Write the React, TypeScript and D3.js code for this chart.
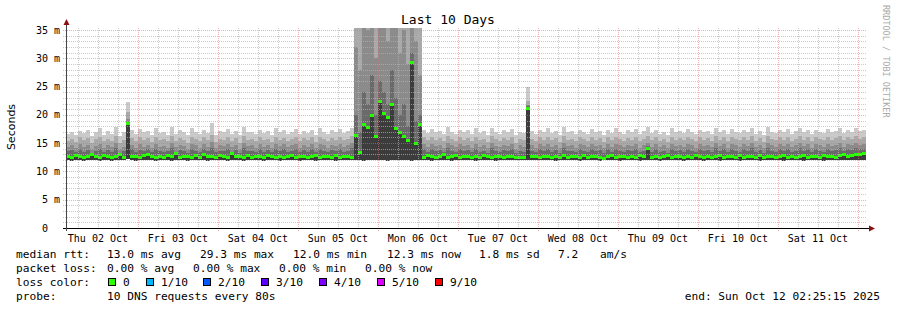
import React from 'react';
import * as d3 from 'd3';

// ---- data (ms), one value per 72-minute step, 200 steps over 10 days ----
const medRtt = [
  12.8,12.6,12.9,12.7,12.5,12.8,13.1,12.7,12.6,12.9,12.8,12.5,12.7,13.0,12.6,18.5,12.7,12.8,12.6,12.9,
  13.1,12.7,12.6,12.8,12.5,12.9,12.7,13.2,12.6,12.8,12.7,12.5,12.9,12.6,13.0,12.7,12.8,12.6,12.9,12.7,
  12.6,13.2,12.7,12.8,12.5,12.9,12.6,12.7,12.8,12.6,12.9,12.7,12.5,12.8,12.6,12.7,12.9,12.6,12.8,12.7,
  12.5,12.8,12.9,12.6,12.7,12.8,12.5,12.9,12.6,12.7,12.8,12.6,16.4,13.5,18.3,17.9,20.0,16.2,22.4,20.3,
  19.6,21.9,17.6,16.9,16.2,15.5,29.3,15.0,18.4,12.6,12.9,12.7,12.5,12.8,13.0,12.6,12.7,12.9,12.6,12.8,
  12.7,12.5,12.8,12.6,12.9,12.7,12.6,12.8,12.7,12.5,12.8,12.7,12.6,12.6,12.6,21.2,12.7,12.7,12.6,12.7,
  12.8,12.6,12.7,12.5,12.9,12.6,12.8,12.7,12.6,12.9,12.5,12.7,12.8,12.6,12.4,12.7,12.9,12.6,12.8,12.7,
  12.5,12.8,12.6,12.9,12.7,14.1,12.6,12.8,12.5,12.7,12.9,12.6,12.8,12.7,12.5,12.8,12.6,12.9,12.7,12.6,
  12.8,12.5,12.7,12.9,12.6,12.8,12.7,12.5,12.9,12.6,12.7,12.8,12.6,12.9,12.5,12.7,12.8,12.6,12.7,12.9,
  12.6,12.8,12.5,12.7,12.9,12.6,12.8,12.7,12.6,12.9,12.7,12.8,12.6,12.9,13.0,12.8,12.9,13.1,13.0,13.3,
];
const maxRtt = [
  16.6,17.0,16.4,17.2,16.8,17.4,16.2,16.9,17.6,16.5,17.1,16.7,17.8,16.3,17.0,22.3,17.3,16.6,17.5,16.9,
  17.2,16.4,17.7,16.8,17.0,16.5,17.9,16.7,17.3,16.9,16.4,17.6,17.0,16.6,17.4,16.8,18.6,16.5,17.1,16.9,
  17.5,16.7,17.2,16.4,17.8,16.9,17.0,16.6,17.4,16.8,17.1,16.5,17.6,16.9,17.3,16.7,17.0,17.5,16.6,17.2,
  16.8,17.4,16.5,17.7,17.0,16.6,17.3,16.9,17.5,16.8,17.1,17.6,40,40,40,40,40,40,40,40,
  40,40,40,40,40,40,40,40,40,17.4,16.8,17.5,16.9,17.2,16.6,17.8,17.0,16.7,17.4,16.9,
  17.3,16.6,17.6,16.8,17.1,16.5,17.7,17.0,16.7,17.3,16.9,17.5,16.4,17.0,16.8,24.9,17.2,16.6,17.4,16.9,
  17.6,16.8,17.2,16.5,17.8,16.9,17.1,16.6,17.4,17.0,16.7,17.5,16.9,17.2,16.5,17.3,16.8,17.6,17.0,16.7,
  17.3,16.9,17.5,16.6,17.1,17.8,16.8,17.4,16.7,17.0,16.5,17.6,16.9,17.2,16.8,17.5,17.0,16.6,17.4,16.9,
  17.2,16.7,17.7,16.9,17.3,16.6,17.5,17.0,16.8,17.4,16.9,17.6,16.7,17.2,16.5,17.8,17.0,16.8,17.3,16.9,
  17.5,16.7,17.1,17.6,16.9,17.3,16.6,17.4,17.0,16.8,17.5,16.9,17.2,17.7,16.8,17.4,17.0,17.6,17.1,17.3,
];
const p90Rtt = [
  15.4,15.8,15.2,16.0,15.5,15.9,15.1,15.7,16.1,15.3,15.8,15.4,16.2,15.0,15.6,20.5,15.9,15.3,16.0,15.5,
  15.9,15.2,16.1,15.6,15.7,15.3,16.2,15.4,15.9,15.6,15.1,16.0,15.7,15.3,16.0,15.5,16.4,15.2,15.8,15.6,
  16.1,15.4,15.9,15.1,16.2,15.6,15.7,15.3,16.0,15.5,15.8,15.2,16.1,15.6,15.9,15.4,15.7,16.0,15.3,15.9,
  15.5,16.0,15.2,16.1,15.7,15.3,15.9,15.6,16.1,15.5,15.8,16.2,40,40,40,40,40,40,40,40,
  40,40,40,40,40,40,40,40,40,16.0,15.5,16.1,15.6,15.9,15.3,16.2,15.7,15.4,16.0,15.6,
  15.9,15.3,16.1,15.5,15.8,15.2,16.2,15.7,15.4,15.9,15.6,16.1,15.1,15.7,15.5,22.5,15.8,15.3,16.0,15.6,
  16.1,15.5,15.9,15.2,16.2,15.6,15.8,15.3,16.0,15.7,15.4,16.1,15.6,15.9,15.2,16.0,15.5,16.1,15.7,15.4,
  15.9,15.6,16.1,15.3,15.8,16.3,15.5,16.0,15.4,15.7,15.2,16.1,15.6,15.9,15.5,16.1,15.7,15.3,16.0,15.6,
  15.9,15.4,16.2,15.6,16.0,15.3,16.1,15.7,15.5,16.0,15.6,16.2,15.4,15.9,15.2,16.3,15.7,15.5,16.0,15.6,
  16.1,15.4,15.8,16.2,15.6,16.0,15.3,16.1,15.7,15.5,16.1,15.6,15.9,16.3,15.5,16.0,15.7,16.2,15.8,16.0,
];
const p75Rtt = [
  14.3,14.6,14.1,14.8,14.4,14.7,14.0,14.5,14.9,14.2,14.6,14.3,15.0,13.9,14.4,19.2,14.7,14.2,14.8,14.4,
  14.7,14.1,14.9,14.4,14.5,14.2,15.0,14.3,14.7,14.5,14.0,14.8,14.6,14.2,14.9,14.4,15.2,14.1,14.6,14.5,
  14.9,14.3,14.7,14.0,15.0,14.5,14.6,14.2,14.8,14.4,14.7,14.1,14.9,14.5,14.8,14.3,14.6,14.9,14.2,14.7,
  14.4,14.8,14.1,14.9,14.6,14.2,14.7,14.5,14.9,14.4,14.6,15.0,32,28,38,35,40,30,40,37,
  33,40,36,31,35,29,40,33,27,14.8,14.4,14.9,14.5,14.7,14.2,15.0,14.6,14.3,14.8,14.5,
  14.7,14.2,14.9,14.4,14.6,14.1,15.0,14.5,14.3,14.7,14.5,14.9,14.0,14.6,14.4,21.8,14.6,14.2,14.8,14.5,
  14.9,14.4,14.7,14.1,15.0,14.5,14.6,14.2,14.8,14.6,14.3,14.9,14.5,14.7,14.1,14.8,14.4,14.9,14.6,14.3,
  14.7,14.5,14.9,14.2,14.6,15.1,14.4,14.8,14.3,14.6,14.1,14.9,14.5,14.7,14.4,14.9,14.6,14.2,14.8,14.5,
  14.7,14.3,15.0,14.5,14.8,14.2,14.9,14.6,14.4,14.8,14.5,15.0,14.3,14.7,14.1,15.1,14.6,14.4,14.8,14.5,
  14.9,14.3,14.6,15.0,14.5,14.8,14.2,14.9,14.6,14.4,14.9,14.5,14.7,15.1,14.4,14.8,14.6,15.0,14.7,14.8,
];
const p60Rtt = [
  13.6,13.8,13.4,13.9,13.5,13.8,13.3,13.7,14.0,13.4,13.8,13.5,14.1,13.3,13.6,18.8,13.9,13.4,13.8,13.6,
  13.9,13.4,14.0,13.6,13.5,13.7,14.1,13.5,13.8,13.6,13.3,13.9,13.7,13.4,14.0,13.6,14.2,13.4,13.7,13.6,
  14.0,13.5,13.8,13.3,14.1,13.6,13.7,13.4,13.9,13.5,13.8,13.4,14.0,13.6,13.9,13.5,13.7,14.0,13.4,13.8,
  13.5,13.9,13.4,14.0,13.7,13.4,13.8,13.6,14.0,13.5,13.7,14.1,20,17,24,22,27,20,26,24,
  22,28,23,20,22,18,31,19,20,13.9,13.5,14.0,13.6,13.8,13.4,14.1,13.7,13.4,13.9,13.6,
  13.8,13.4,14.0,13.5,13.7,13.3,14.1,13.6,13.4,13.8,13.6,14.0,13.3,13.7,13.5,21.5,13.7,13.4,13.9,13.6,
  14.0,13.5,13.8,13.3,14.1,13.6,13.7,13.4,13.9,13.7,13.4,14.0,13.6,13.8,13.3,13.9,13.5,14.0,13.7,13.4,
  13.8,13.6,14.0,13.4,13.7,14.5,13.5,13.9,13.4,13.7,13.3,14.0,13.6,13.8,13.5,14.0,13.7,13.4,13.9,13.6,
  13.8,13.4,14.1,13.6,13.9,13.4,14.0,13.7,13.5,13.9,13.6,14.1,13.4,13.8,13.3,14.2,13.7,13.5,13.9,13.6,
  14.0,13.4,13.7,14.1,13.6,13.9,13.4,14.0,13.7,13.5,14.0,13.6,13.8,14.2,13.6,13.9,13.8,14.1,13.9,14.0,
];
const minRtt = [
  12.0,11.9,12.1,12.0,11.9,12.0,12.1,12.0,11.9,12.1,12.0,11.9,12.0,12.1,12.0,12.2,12.0,11.9,12.0,12.1,
  12.0,12.1,11.9,12.0,12.0,12.1,11.9,12.0,12.1,12.0,11.9,12.0,12.1,12.0,12.0,11.9,12.1,12.0,12.0,12.1,
  11.9,12.0,12.1,12.0,11.9,12.0,12.0,12.1,12.0,11.9,12.1,12.0,12.0,11.9,12.1,12.0,12.0,12.1,11.9,12.0,
  12.1,12.0,11.9,12.0,12.1,12.0,12.0,11.9,12.1,12.0,12.0,12.1,12.0,12.0,11.9,12.0,12.0,12.1,12.0,12.0,
  11.9,12.0,12.0,12.1,12.0,12.0,11.9,12.0,12.0,12.0,12.1,11.9,12.0,12.0,12.1,12.0,11.9,12.0,12.1,12.0,
  12.0,12.1,11.9,12.0,12.1,12.0,12.0,11.9,12.1,12.0,12.0,12.0,12.1,12.1,12.1,12.0,12.1,12.1,12.0,12.0,
  12.1,12.0,11.9,12.0,12.1,12.0,12.0,12.1,11.9,12.0,12.0,12.1,12.0,11.9,12.0,12.1,12.0,12.0,11.9,12.1,
  12.0,12.0,12.1,11.9,12.0,12.1,12.0,12.0,11.9,12.1,12.0,12.0,12.1,12.0,11.9,12.0,12.1,12.0,12.0,11.9,
  12.1,12.0,12.0,11.9,12.1,12.0,12.0,12.1,11.9,12.0,12.0,12.1,12.0,11.9,12.0,12.1,12.0,12.0,12.1,11.9,
  12.0,12.1,12.0,12.0,11.9,12.1,12.0,12.0,12.1,11.9,12.0,12.0,12.1,12.0,12.0,12.1,12.0,12.1,12.0,12.1,
];

const yTicks = [0, 5, 10, 15, 20, 25, 30, 35];
const yTickLabels = ['0', '5 m', '10 m', '15 m', '20 m', '25 m', '30 m', '35 m'];

const statsRow1 = [
  { x: 16, t: 'median rtt:' },
  { x: 107, t: '13.0 ms avg' },
  { x: 200, t: '29.3 ms max' },
  { x: 293, t: '12.0 ms min' },
  { x: 387, t: '12.3 ms now' },
  { x: 479, t: '1.8 ms sd' },
  { x: 558, t: '7.2' },
  { x: 600, t: 'am/s' },
];
const statsRow2 = [
  { x: 16, t: 'packet loss:' },
  { x: 107, t: '0.00 % avg' },
  { x: 193, t: '0.00 % max' },
  { x: 279, t: '0.00 % min' },
  { x: 365, t: '0.00 % now' },
];
const lossLabels = ['0', '1/10', '2/10', '3/10', '4/10', '5/10', '9/10'];
const lossColors = ['#26ff00', '#00b8ff', '#0059ff', '#5e00ff', '#7e00ff', '#dd00ff', '#ff0000'];
const lossBoxX = [108, 146, 203, 261, 319, 377, 435];

const W = 897, H = 310;
const X0 = 66, X1 = 866, Y0 = 228, Y1 = 28;
const MONO = 'DejaVu Sans Mono, monospace';

export default function App() {
  const start = new Date(2025, 9, 2, 2, 25, 15);
  const end = new Date(2025, 9, 12, 2, 25, 15);
  const N = medRtt.length;
  const STEP = (end.getTime() - start.getTime()) / N;
  const x = d3.scaleTime().domain([start, end]).range([X0, X1]);
  const y = d3.scaleLinear().domain([0, 35.355]).range([Y0, Y1]);

  const pts = d3.range(N + 1).map(i => ({ t: new Date(start.getTime() + i * STEP), k: Math.min(i, N - 1) }));
  const band = (hi: number[], lo: number[]) =>
    d3.area<{ t: Date; k: number }>()
      .x(p => x(p.t))
      .y0(p => y(lo[p.k]))
      .y1(p => y(hi[p.k]))
      .curve(d3.curveStepAfter)(pts) || '';

  const minorY = d3.range(1, 36).filter(v => v % 5 !== 0);
  const majorY = d3.range(5, 36, 5);
  const sixH = d3.timeHour.every(6)!.range(start, end);
  const minorX = sixH.filter(d => d.getHours() !== 0);
  const majorX = d3.timeDay.range(start, end);
  const noons = d3.timeDay.range(d3.timeDay.floor(start), end).map(d => d3.timeHour.offset(d, 12)).filter(d => d > start && d < end);
  const fmt = d3.timeFormat('%a %d %b');
  const px = (v: number) => Math.round(v) + 0.5;

  return (
    <svg width={W} height={H} style={{ display: 'block', position: 'absolute', left: 0, top: 0, background: '#fff' }}>
      <defs>
        <clipPath id="plot"><rect x={X0} y={Y1} width={X1 - X0} height={Y0 - Y1} /></clipPath>
      </defs>
      <rect x={0} y={0} width={W} height={H} fill="#fff" />
      <g clipPath="url(#plot)" shapeRendering="crispEdges">
        <path d={band(maxRtt, minRtt)} fill="#cacaca" />
        <path d={band(p90Rtt, minRtt)} fill="#a9a9a9" />
        <path d={band(p75Rtt, minRtt)} fill="#8b8b8b" />
        <path d={band(p60Rtt, minRtt)} fill="#6a6a6a" />
        <path d={band(medRtt, minRtt)} fill="#3c3c3c" />
        {medRtt.map((v, i) => (
          <rect key={i} x={x(pts[i].t)} y={Math.round(y(v) - 1)} width={x(pts[i + 1].t) - x(pts[i].t)} height={3} fill="#26ff00" />
        ))}
      </g>
      {/* grid */}
      <g shapeRendering="crispEdges">
        {minorY.map(v => (
          <line key={'my' + v} x1={X0 - 3} x2={X1} y1={px(y(v))} y2={px(y(v))} stroke="#b4b4b4" strokeOpacity={0.7} strokeDasharray="1,1" />
        ))}
        {minorX.map((d, i) => (
          <line key={'mx' + i} x1={px(x(d))} x2={px(x(d))} y1={Y1} y2={Y0 + 2} stroke="#b4b4b4" strokeOpacity={0.7} strokeDasharray="1,1" />
        ))}
        {majorY.map(v => (
          <line key={'My' + v} x1={X0 - 3} x2={X1} y1={px(y(v))} y2={px(y(v))} stroke="#e07070" strokeOpacity={0.55} strokeDasharray="1,1" />
        ))}
        {majorX.map((d, i) => (
          <line key={'Mx' + i} x1={px(x(d))} x2={px(x(d))} y1={Y1} y2={Y0 + 3} stroke="#e07070" strokeOpacity={0.55} strokeDasharray="1,1" />
        ))}
      </g>
      {/* axes */}
      <g shapeRendering="crispEdges">
        <line x1={X0 - 3} x2={X1 + 5} y1={px(Y0)} y2={px(Y0)} stroke="#000" />
        <line x1={px(X0)} x2={px(X0)} y1={Y0 + 3} y2={Y1 - 5} stroke="#444" />
      </g>
      <path d={`M${X0 - 2.5},${Y1 - 3} L${X0 + 3.5},${Y1 - 3} L${X0 + 0.5},${Y1 - 9} Z`} fill="#8b1010" />
      <path d={`M${X1 + 3},${Y0 - 2.5} L${X1 + 3},${Y0 + 3.5} L${X1 + 9},${Y0 + 0.5} Z`} fill="#8b1010" />
      {/* y labels */}
      {yTicks.map((v, i) => (
        <text key={'yl' + v} x={v === 0 ? 48 : 60} y={y(v)} dy="0.35em" textAnchor="end" fontFamily={MONO} fontSize={10} fill="#000">
          {yTickLabels[i]}
        </text>
      ))}
      {/* x labels */}
      {noons.map((d, i) => (
        <text key={'xl' + i} x={x(d)} y={241.5} textAnchor="middle" fontFamily={MONO} fontSize={10} fill="#000">
          {fmt(d)}
        </text>
      ))}
      {/* title */}
      <text x={448} y={24} textAnchor="middle" fontFamily={MONO} fontSize={13} fill="#000">Last 10 Days</text>
      <text transform="translate(15,127) rotate(-90)" textAnchor="middle" fontFamily="DejaVu Sans, sans-serif" fontSize={11} fill="#000">Seconds</text>
      <text transform="translate(883,5) rotate(90)" fontFamily={MONO} fontSize={8.5} fill="#aaaaaa">RRDTOOL / TOBI OETIKER</text>
      {/* legend */}
      <g fontFamily={MONO} fontSize={11.2} fill="#000">
        {statsRow1.map((s, i) => <text key={'r1' + i} x={s.x} y={258}>{s.t}</text>)}
        {statsRow2.map((s, i) => <text key={'r2' + i} x={s.x} y={272}>{s.t}</text>)}
        <text x={16} y={286}>loss color:</text>
        {lossLabels.map((l, i) => (
          <g key={'lc' + i}>
            <rect x={lossBoxX[i] + 0.5} y={278.5} width={7} height={7} fill={lossColors[i]} stroke="#000" />
            <text x={lossBoxX[i] + 15} y={286}>{l}</text>
          </g>
        ))}
        <text x={16} y={300}>probe:</text>
        <text x={107} y={300}>10 DNS requests every 80s</text>
        <text x={880} y={300} textAnchor="end">end: Sun Oct 12 02:25:15 2025</text>
      </g>
    </svg>
  );
}
